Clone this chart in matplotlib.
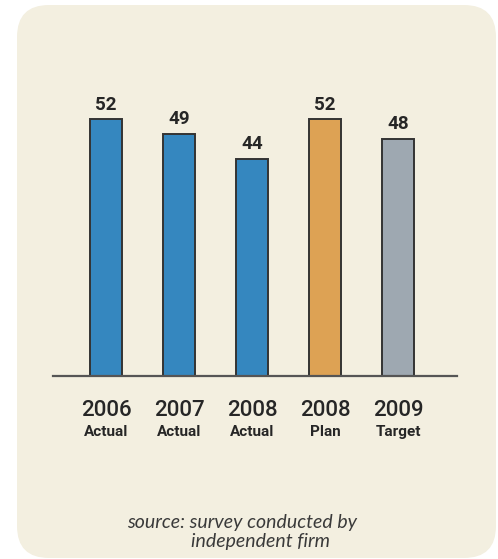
import matplotlib.pyplot as plt
from matplotlib.patches import FancyBboxPatch
from matplotlib.transforms import IdentityTransform

years = ['2006', '2007', '2008', '2008', '2009']
kinds = ['Actual', 'Actual', 'Actual', 'Plan', 'Target']
values = [52, 49, 44, 52, 48]
colors = ['#3587bf', '#3587bf', '#3587bf', '#dda254', '#9ea8b1']

W, H = 498, 559
fig = plt.figure(figsize=(W / 100, H / 100), dpi=100)
fig.patch.set_facecolor('white')

# rounded beige panel, drawn in pixel units so the corners stay circular
r = 32
panel = FancyBboxPatch((17 + r, 1 + r), 496 - 17 - 2 * r, 553 - 2 * r,
                       boxstyle='round,pad=%d' % r, transform=IdentityTransform(),
                       facecolor='#f3efe0', edgecolor='none', zorder=-5)
fig.add_artist(panel)

# axes placed so that one unit on x is 73 px and the baseline sits at y=376 px
step = 73
x0 = 106
left_px, right_px = 53, 457
base_px = H - 376
ax = fig.add_axes([left_px / W, base_px / H, (right_px - left_px) / W, 300 / H])
ax.set_zorder(2)
ax.set_xlim((left_px - x0) / step, (right_px - x0) / step)
ax.set_ylim(0, 300 / 4.94)
ax.patch.set_alpha(0)
for s in ax.spines.values():
    s.set_visible(False)
ax.set_xticks([])
ax.set_yticks([])

xs = list(range(len(values)))
ax.bar(xs, values, width=0.44, color=colors, edgecolor='#333333', linewidth=1.4, zorder=2)
ax.axhline(0, color='#555555', linewidth=1.6, zorder=3, clip_on=False)

for x, v in zip(xs, values):
    ax.annotate(str(v), (x, v), xytext=(0, 4), textcoords='offset points',
                ha='center', va='bottom', fontsize=13.5, fontweight='bold',
                family='Roboto', color='#262626', annotation_clip=False)

# category labels under the baseline
for x, yr, k in zip(xs, years, kinds):
    ax.annotate(yr, (x, 0), xytext=(0, -40 / 1.389), textcoords='offset points',
                ha='center', va='baseline', fontsize=16, fontweight='medium',
                family='Roboto', color='#262626', annotation_clip=False)
    ax.annotate(k, (x, 0), xytext=(0, -60.5 / 1.389), textcoords='offset points',
                ha='center', va='baseline', fontsize=11, fontweight='bold',
                family='Roboto', color='#262626', annotation_clip=False)

fig.text(127 / W, 1 - 528 / H, 'source: survey conducted by', ha='left', va='baseline',
         fontsize=14, style='italic', family='Lato', color='#3a3a3a')
fig.text(191 / W, 1 - 547 / H, 'independent firm', ha='left', va='baseline',
         fontsize=14, style='italic', family='Lato', color='#3a3a3a')

fig.savefig('out.png', dpi=100)
